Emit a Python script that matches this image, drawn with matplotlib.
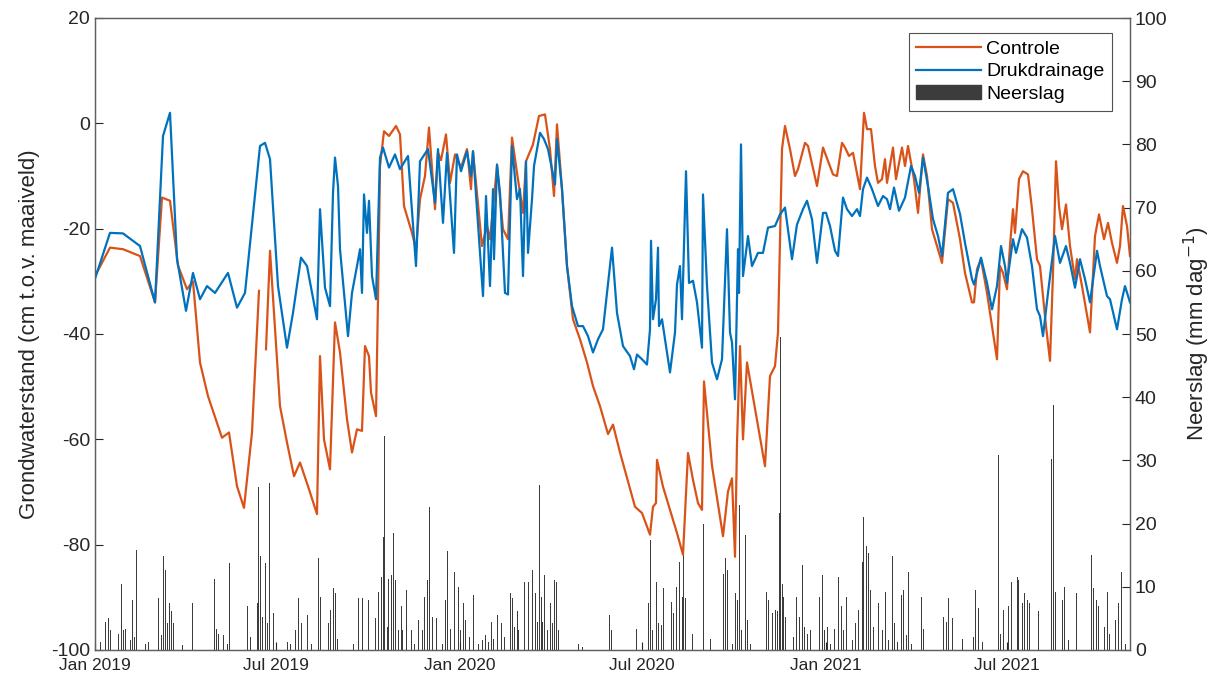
import numpy as np
import pandas as pd
import matplotlib
matplotlib.use('Agg')
import matplotlib.pyplot as plt
from matplotlib.patches import Patch
from matplotlib.lines import Line2D

plt.rcParams['font.family'] = ['Liberation Sans', 'DejaVu Sans']
plt.rcParams['axes.unicode_minus'] = False

# Startdatum van de meetreeks; alle dagen zijn relatief hieraan
start = pd.Timestamp('2019-01-01')

# Grondwaterstand Controle (cm t.o.v. maaiveld)
controle_dag = [0, 15, 28, 45, 60, 67, 75, 83, 92, 98, 105, 113, 127, 134, 142, 149, 157, 164, 167,
                171, 175, 185, 192, 199, 205, 213, 222, 225, 229, 235, 240, 245, 252, 257, 262, 267,
                270, 274, 276, 281, 283, 285, 289, 294, 301, 305, 309, 317, 321, 325, 330, 334, 340,
                343, 346, 351, 355, 360, 366, 372, 376, 378, 387, 392, 395, 402, 408, 413, 417, 422,
                428, 431, 438, 444, 450, 455, 459, 462, 467, 472, 478, 485, 492, 498, 505, 513, 518,
                525, 533, 540, 547, 555, 558, 561, 562, 568, 575, 582, 588, 593, 598, 603, 607, 609,
                617, 628, 633, 637, 640, 642, 645, 648, 652, 670, 675, 680, 683, 687, 690, 695, 700,
                703, 710, 713, 722, 728, 738, 742, 747, 750, 754, 758, 765, 769, 772, 776, 780, 783,
                787, 790, 792, 798, 801, 807, 810, 813, 819, 823, 828, 832, 837, 842, 847, 853, 858,
                865, 870, 877, 879, 882, 886, 892, 897, 902, 905, 908, 912, 915, 918, 920, 924, 928,
                933, 937, 942, 945, 951, 955, 958, 961, 964, 967, 971, 975, 980, 982, 987, 991, 995,
                1000, 1004, 1009, 1013, 1017, 1022, 1025, 1028, 1032, 1035]
controle_gws = [-29.0, -23.6, -23.9, -25.2, -34.0, -14.1, -14.7, -27.0, -31.5, -30.0, -45.4, -51.8,
                -59.7, -58.7, -68.9, -73.0, -58.7, -31.8, np.nan,
                -42.9, -24.2, -53.7, -60.6, -67.0, -64.4, -68.9, -74.2, -44.2, -60.0, -65.7, -37.8,
                -43.5, -56.2, -62.5, -58.1, -58.4, -42.3, -44.2, -51.1, -55.6, -33.4, -8.1, -1.5,
                -2.4, -0.5, -2.1, -15.7, -20.8, -23.9, -14.4, -10.0, -0.8, -16.3, -5.6, -7.0, -2.1,
                -11.3, -5.9, -8.4, -4.9, -12.5, -5.3, -23.3, -19.5, -22.0, -8.1, -20.1, -22.0, -2.7,
                -9.4, -17.0, -7.2, -4.0, 1.4, 1.7, -4.9, -13.8, -0.2, -12.5, -27.1, -37.2, -41.0,
                -45.4, -49.9, -53.7, -59.0, -57.2, -62.5, -68.0, -72.8, -74.0, -78.1, -72.8, -72.1,
                -63.9, -69.0, -73.4, -77.8, -81.9, -62.6, -67.7, -72.1, -73.4, -49.0, -65.0, -78.4,
                -69.9, -67.4, -82.3, -60.7, -42.3, -60.0, -45.4, -65.1, -48.0, -46.1, -39.7, -4.9,
                -0.5, -4.9, -10.0, -8.7, -3.7, -4.3, -11.9, -4.6, -9.7, -10.0, -3.7, -4.6, -6.2,
                -5.6, -12.5, 2.0, -1.1, -1.1, -8.1, -11.3, -10.6, -6.8, -11.3, -4.6, -10.6, -4.6,
                -8.1, -4.3, -10.6, -17.0, -5.9, -10.0, -20.1, -23.3, -26.5, -14.4, -15.1, -22.0,
                -28.4, -34.0, -34.0, -27.7, -25.8, -32.2, -38.5, -44.8, -27.1, -28.4, -31.5, -23.3,
                -16.3, -20.8, -10.6, -9.1, -9.7, -16.3, -25.8, -27.1, -38.5, -45.1, -28.4, -7.2,
                -15.7, -20.1, -15.4, -23.3, -29.6, -25.8, -30.9, -35.3, -39.7, -21.4, -17.3, -22.0,
                -18.9, -22.7, -26.5, -23.3, -15.7, -19.5, -25.2]

# Grondwaterstand Drukdrainage (cm t.o.v. maaiveld)
druk_dag = [0, 15, 28, 45, 60, 68, 75, 82, 91, 98, 105, 112, 120, 133, 142, 150, 165, 170, 175,
            183, 192, 198, 206, 212, 222, 225, 230, 235, 238, 240, 243, 245, 253, 257, 262, 265,
            267, 269, 272, 274, 277, 281, 285, 288, 294, 300, 305, 313, 321, 325, 333, 340, 343,
            348, 352, 359, 362, 366, 372, 376, 378, 388, 391, 395, 398, 399, 402, 405, 410, 413,
            417, 422, 425, 428, 431, 433, 437, 439, 445, 449, 453, 460, 462, 467, 472, 477, 483,
            488, 493, 498, 503, 508, 517, 522, 528, 535, 539, 542, 547, 552, 555, 556, 558, 561,
            563, 564, 567, 570, 575, 580, 582, 585, 587, 591, 594, 598, 602, 607, 608, 612, 617,
            622, 627, 632, 635, 637, 640, 643, 644, 646, 648, 653, 657, 663, 668, 673, 680, 685,
            690, 697, 702, 708, 712, 717, 722, 728, 731, 735, 740, 743, 748, 752, 757, 762, 765,
            768, 772, 777, 783, 788, 792, 795, 799, 804, 810, 816, 820, 824, 828, 833, 838, 843,
            847, 853, 858, 865, 870, 877, 879, 886, 892, 897, 902, 906, 910, 912, 918, 921, 927,
            932, 937, 942, 945, 948, 953, 960, 965, 971, 975, 980, 985, 990, 995, 1002, 1005,
            1012, 1015, 1022, 1027, 1030, 1035]
druk_gws = [-29.5, -20.8, -20.9, -23.3, -34.0, -2.4, 2.0, -25.8, -35.6, -28.4, -33.4, -30.9, -32.2,
            -28.4, -35.0, -32.2, -4.3, -3.7, -6.8, -30.9, -42.6, -36.0, -25.5, -27.1, -37.2, -16.3,
            -31.2, -34.7, -13.2, -6.5, -11.9, -23.9, -40.4, -32.2, -27.1, -23.9, -32.2, -13.5,
            -20.8, -14.7, -29.0, -33.4, -6.5, -4.6, -8.4, -5.9, -8.7, -6.2, -27.1, -7.2, -4.9,
            -15.1, -4.9, -18.9, -5.6, -24.6, -5.9, -9.1, -5.3, -10.0, -5.3, -32.8, -13.8, -30.9,
            -12.5, -25.8, -7.8, -13.2, -32.2, -32.5, -4.3, -14.4, -12.5, -29.0, -7.2, -24.6,
            -14.4, -8.1, -1.8, -3.0, -4.9, -11.6, -3.0, -12.5, -27.1, -34.7, -38.5, -38.5, -40.4,
            -43.5, -41.0, -39.1, -23.6, -36.0, -42.3, -44.2, -46.7, -43.9, -44.8, -45.8, -39.1,
            -22.3, -37.2, -33.4, -23.6, -38.5, -37.2, -41.0, -47.3, -39.7, -30.6, -27.1, -37.2,
            -9.1, -30.3, -29.9, -34.0, -42.6, -13.5, -30.9, -45.4, -48.6, -44.8, -20.1, -39.7,
            -41.6, -52.4, -23.9, -32.2, -4.0, -29.0, -21.4, -27.1, -24.6, -24.6, -19.8, -19.5,
            -17.3, -16.0, -25.8, -19.2, -16.3, -14.7, -18.2, -26.5, -17.0, -17.0, -19.5, -24.2,
            -25.2, -14.1, -16.3, -17.6, -16.3, -17.6, -12.5, -10.3, -12.5, -15.7, -13.8, -14.4,
            -16.3, -12.2, -16.6, -14.1, -8.1, -10.0, -13.2, -6.5, -11.9, -18.2, -21.4, -25.2,
            -13.2, -12.5, -17.2, -22.7, -29.6, -30.6, -25.5, -30.3, -35.3, -30.9, -23.3, -27.1,
            -30.3, -22.0, -24.6, -20.1, -21.7, -27.1, -35.3, -36.6, -40.4, -32.2, -21.4, -26.5,
            -23.3, -26.5, -31.2, -25.8, -29.6, -34.0, -24.2, -27.1, -32.8, -33.4, -39.1, -33.4,
            -30.9, -34.0]

# Dagelijkse neerslag (mm/dag), alleen dagen met neerslag
neerslag_dag = [5, 10, 13, 15, 23, 26, 28, 30, 35, 37, 39, 41, 50, 53, 63, 66, 68, 70, 72, 74, 76,
                78, 87, 97, 119, 121, 123, 128, 132, 134, 152, 155, 162, 163, 165, 167, 170, 172,
                174, 178, 192, 195, 200, 203, 206, 212, 216, 223, 225, 233, 235, 238, 240, 242,
                258, 263, 267, 273, 280, 283, 286, 288, 289, 292, 293, 296, 298, 300, 303, 306,
                307, 311, 316, 319, 323, 327, 329, 332, 334, 337, 341, 347, 350, 352, 355, 359,
                363, 365, 368, 370, 374, 378, 383, 387, 390, 393, 396, 398, 402, 406, 409, 415,
                417, 419, 422, 423, 429, 433, 437, 440, 442, 444, 446, 447, 449, 452, 455, 457,
                459, 461, 463, 483, 487, 514, 516, 541, 553, 555, 557, 561, 563, 566, 568, 576,
                578, 581, 584, 587, 588, 590, 597, 608, 615, 628, 630, 632, 637, 640, 642, 644,
                646, 650, 652, 655, 671, 673, 677, 680, 682, 684, 685, 687, 688, 690, 698, 701,
                704, 707, 709, 712, 715, 724, 727, 729, 732, 735, 739, 743, 746, 748, 751, 757,
                760, 763, 767, 768, 771, 773, 775, 778, 783, 787, 790, 793, 797, 799, 802, 806,
                808, 811, 813, 816, 826, 828, 848, 851, 853, 857, 867, 878, 880, 883, 887, 903,
                905, 908, 913, 916, 922, 923, 927, 929, 932, 934, 943, 956, 958, 960, 967, 969,
                973, 981, 996, 998, 1001, 1003, 1009, 1012, 1014, 1020, 1023, 1026, 1030]
neerslag_mm = [1.3, 4.5, 5.0, 3.2, 2.6, 10.5, 3.2, 3.4, 1.6, 7.9, 2.1, 15.8, 1.0, 1.3, 8.2, 2.4,
               14.8, 12.7, 4.2, 7.4, 6.1, 4.2, 0.8, 7.4, 11.3, 3.4, 2.6, 2.4, 1.0, 13.7, 6.9, 2.1,
               7.4, 25.8, 14.8, 5.3, 13.7, 4.2, 26.4, 5.8, 1.3, 1.0, 3.2, 8.2, 4.2, 5.5, 1.0, 14.5,
               8.4, 4.2, 6.3, 9.8, 9.0, 1.8, 1.0, 8.2, 8.2, 7.9, 5.0, 9.2, 11.6, 17.9, 33.8, 3.7,
               11.3, 11.9, 18.5, 11.1, 3.2, 6.9, 3.2, 9.5, 3.2, 1.0, 4.7, 3.2, 8.4, 11.1, 22.7,
               5.3, 5.0, 1.0, 7.9, 15.6, 3.4, 12.4, 10.0, 3.2, 7.4, 4.7, 2.1, 8.7, 1.0, 1.6, 2.4,
               1.3, 4.5, 1.8, 5.5, 4.2, 2.1, 9.0, 8.2, 3.7, 6.1, 3.2, 10.8, 10.8, 12.7, 9.0, 4.5,
               26.1, 8.4, 4.5, 11.9, 3.2, 7.4, 4.2, 11.1, 10.8, 3.2, 1.0, 0.5, 5.5, 3.2, 3.4, 7.4,
               17.4, 3.2, 10.8, 4.2, 4.0, 9.8, 7.6, 5.8, 10.0, 14.0, 8.4, 15.8, 8.2, 2.6, 20.0,
               1.8, 12.1, 14.5, 12.7, 1.0, 9.0, 7.9, 22.9, 3.2, 18.2, 4.7, 1.0, 9.2, 7.9, 5.8, 6.3,
               6.1, 21.6, 49.5, 10.5, 8.4, 5.3, 2.1, 8.4, 5.3, 13.4, 3.7, 2.6, 3.2, 8.4, 11.9, 3.2,
               3.7, 1.0, 3.4, 11.6, 6.9, 3.2, 8.4, 1.6, 4.2, 6.3, 14.0, 21.1, 16.4, 15.3, 9.5,
               3.7, 7.4, 3.2, 9.2, 1.6, 14.8, 4.2, 1.3, 8.7, 9.5, 2.4, 12.4, 1.0, 8.4, 3.4, 5.3,
               4.5, 8.2, 5.0, 1.8, 2.1, 9.5, 6.6, 1.3, 30.9, 2.6, 6.3, 6.9, 10.8, 11.6, 11.1, 7.4,
               9.0, 7.9, 7.4, 6.1, 30.3, 38.8, 9.2, 7.9, 10.0, 1.6, 9.0, 15.0, 9.8, 7.9, 6.9, 3.7,
               9.2, 2.6, 4.7, 7.4, 12.4, 1.0]

tick_datums = ['2019-01-01', '2019-07-01', '2020-01-01', '2020-07-01', '2021-01-01', '2021-07-01']
tick_labels = ['Jan 2019', 'Jul 2019', 'Jan 2020', 'Jul 2020', 'Jan 2021', 'Jul 2021']


def naar_datum(dagen):
    return start + pd.to_timedelta(dagen, unit='D')


def main():
    tekstkleur = '#262626'
    askleur = '#606060'

    fig = plt.figure(figsize=(12.27, 6.82), dpi=100)
    ax1 = fig.add_axes([95 / 1227, 1 - 650 / 682, 1035 / 1227, 632 / 682])
    ax2 = ax1.twinx()

    # Neerslag als staafjes op de rechter as
    ax2.bar(naar_datum(neerslag_dag), neerslag_mm, width=1.0, color='#3c3c3c', linewidth=0)
    ax2.set_ylim(0, 100)
    ax2.set_yticks(range(0, 101, 10))
    ax2.set_ylabel('Neerslag (mm dag$^{-1}$)', fontsize=16, color=tekstkleur, labelpad=10)

    # Grondwaterstanden op de linker as
    ax1.plot(naar_datum(controle_dag), controle_gws, color='#D95319', lw=1.6)
    ax1.plot(naar_datum(druk_dag), druk_gws, color='#0072BD', lw=1.6)
    ax1.set_ylim(-100, 20)
    ax1.set_yticks(range(-100, 21, 20))
    ax1.set_ylabel('Grondwaterstand (cm t.o.v. maaiveld)', fontsize=16, color=tekstkleur, labelpad=8)
    ax1.set_zorder(ax2.get_zorder() + 1)
    ax1.patch.set_visible(False)

    ax1.set_xlim(start, pd.Timestamp('2021-11-01'))
    ax1.set_xticks(pd.to_datetime(tick_datums))
    ax1.set_xticklabels(tick_labels)

    for ax in (ax1, ax2):
        ax.tick_params(direction='in', length=6, width=0.8, labelsize=14, colors=tekstkleur)
        for spine in ax.spines.values():
            spine.set_color(askleur)
            spine.set_linewidth(0.9)
    ax1.tick_params(axis='x', labelsize=12.5, pad=6)

    handles = [Line2D([], [], color='#D95319', lw=1.6),
               Line2D([], [], color='#0072BD', lw=1.6),
               Patch(facecolor='#3c3c3c', edgecolor='#3c3c3c')]
    leg = ax1.legend(handles, ['Controle', 'Drukdrainage', 'Neerslag'], loc='upper right',
                     bbox_to_anchor=(0.983, 0.977), fontsize=14, frameon=True, fancybox=False,
                     handlelength=3.3, handletextpad=0.3, borderpad=0.4, labelspacing=0.25,
                     borderaxespad=0)
    leg.get_frame().set_edgecolor('#262626')
    leg.get_frame().set_linewidth(0.8)

    fig.savefig('out.png', dpi=100)


if __name__ == '__main__':
    main()
